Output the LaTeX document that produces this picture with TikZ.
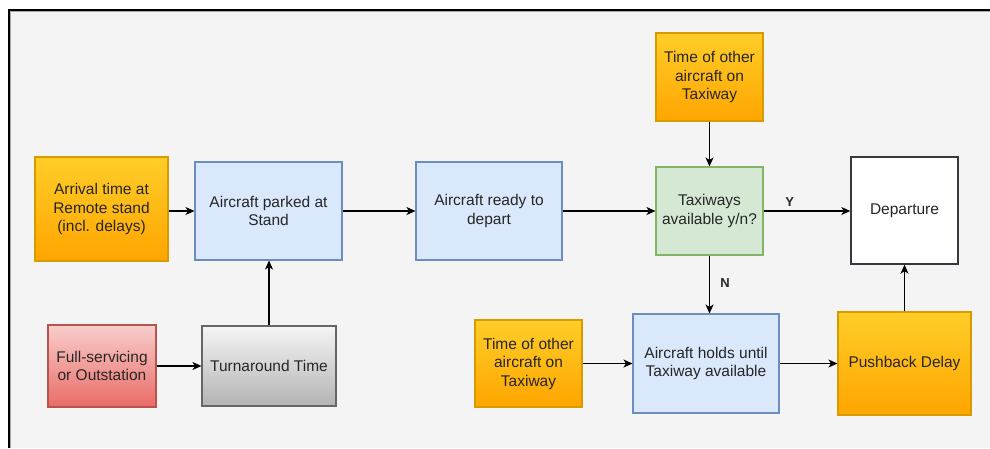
\documentclass[tikz,border=0pt]{standalone}
\usepackage{fontspec}
\setmainfont{Liberation Sans}
\usetikzlibrary{arrows.meta}
\definecolor{txt}{HTML}{262626}
\definecolor{bgc}{HTML}{F4F4F4}
\definecolor{orgTop}{HTML}{FFCD28}
\definecolor{orgBot}{HTML}{FFA500}
\definecolor{orgLine}{HTML}{D79B00}
\definecolor{bluFill}{HTML}{DAE8FC}
\definecolor{bluLine}{HTML}{6C8EBF}
\definecolor{grnFill}{HTML}{D5E8D4}
\definecolor{grnLine}{HTML}{82B366}
\definecolor{redTop}{HTML}{F8CECC}
\definecolor{redBot}{HTML}{EA6B66}
\definecolor{redLine}{HTML}{B85450}
\definecolor{gryTop}{HTML}{F5F5F5}
\definecolor{gryBot}{HTML}{B3B3B3}
\definecolor{gryLine}{HTML}{666666}
\definecolor{depLine}{HTML}{36393D}
\tikzset{
  box/.style={rectangle, inner sep=2pt, align=center, text=txt, line width=1.1pt,
    font=\fontsize{15.5}{18.5}\selectfont},
  orangebox/.style={box, draw=orgLine, top color=orgTop, bottom color=orgBot},
  bluebox/.style={box, draw=bluLine, fill=bluFill},
  greenbox/.style={box, draw=grnLine, fill=grnFill},
  redbox/.style={box, draw=redLine, top color=redTop, bottom color=redBot},
  greybox/.style={box, draw=gryLine, top color=gryTop, bottom color=gryBot},
  whitebox/.style={box, draw=depLine, fill=white, line width=1.4pt},
  flow/.style={draw=black, line width=1.2pt, -{Stealth[length=9pt,width=8pt,inset=2.5pt]}},
  yn/.style={font=\bfseries\fontsize{13}{15}\selectfont, text=txt}
}
\begin{document}
\begin{tikzpicture}[x=1pt, y=-1pt]
  % canvas and frame
  \useasboundingbox (0,0) rectangle (990,448);
  \fill[white] (0,0) rectangle (990,448);
  \fill[bgc] (9,10) rectangle (990,448);
  \draw[black, line width=2pt] (8.5,448) -- (8.5,9.5) -- (990,9.5);
  \draw[gray!70, line width=0.6pt] (10.2,448) -- (10.2,11.2) -- (990,11.2);

  % boxes
  \node[orangebox, minimum width=133pt, minimum height=104pt] (arr) at (101.5,209) {Arrival time at\\Remote stand\\(incl. delays)};
  \node[bluebox, minimum width=147pt, minimum height=98pt] (park) at (268.5,211) {Aircraft parked at\\Stand};
  \node[bluebox, minimum width=146pt, minimum height=98pt] (ready) at (489,211) {Aircraft ready to\\depart};
  \node[greenbox, minimum width=107pt, minimum height=88pt] (taxi) at (709.5,211) {Taxiways\\available y/n?};
  \node[orangebox, minimum width=107pt, minimum height=88pt] (ttop) at (709.5,77) {Time of other\\aircraft on\\Taxiway};
  \node[whitebox, minimum width=107pt, minimum height=107pt] (dep) at (904.5,210.5) {Departure};
  \node[redbox, minimum width=108pt, minimum height=82pt] (full) at (102,366) {Full-servicing\\or Outstation};
  \node[greybox, minimum width=134pt, minimum height=80pt] (turn) at (269,366) {Turnaround Time};
  \node[orangebox, minimum width=107pt, minimum height=87pt] (tbot) at (528.5,363.5) {Time of other\\aircraft on\\Taxiway};
  \node[bluebox, minimum width=146pt, minimum height=99pt] (hold) at (706,363.5) {Aircraft holds until\\Taxiway available};
  \node[orangebox, minimum width=133pt, minimum height=103pt] (push) at (904.5,363.5) {Pushback Delay};

  % connectors
  \draw[flow] (arr.east |- park) -- (park.west);
  \draw[flow] (park) -- (ready);
  \draw[flow] (ready) -- (taxi);
  \draw[flow] (taxi) -- node[yn, above=1pt, pos=0.3] (ylab) {Y} (dep.west |- taxi);
  \draw[flow] (ttop) -- (taxi);
  \draw[flow] (taxi.south) -- node[yn, right=7pt, pos=0.48] (nlab) {N} (taxi.south |- hold.north);
  \draw[flow] (full) -- (turn);
  \draw[flow] (turn.north) -- (turn.north |- park.south);
  \draw[flow] (tbot) -- (tbot.east -| hold.west);
  \draw[flow] (hold) -- (push);
  \draw[flow] (push.north -| 904.5,0) -- (dep.south);
\end{tikzpicture}
\end{document}
